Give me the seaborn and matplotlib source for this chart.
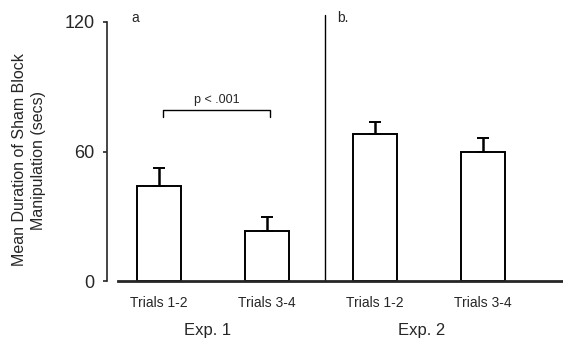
import numpy as np
import pandas as pd
import matplotlib
matplotlib.use("Agg")
import matplotlib.pyplot as plt
import seaborn as sns

# values
conditions = ["e1_t12", "e1_t34", "e2_t12", "e2_t34"]
tick_labels = ["Trials 1-2", "Trials 3-4", "Trials 1-2", "Trials 3-4"]
means = [44, 23, 68, 60]
upper_err = [8.5, 6.5, 5.8, 6.2]
exp_labels = ["Exp. 1", "Exp. 2"]
panel_labels = ["a", "b."]
bracket_y = 79
p_text = "p < .001"

sns.set_style("ticks")
plt.rcParams["font.family"] = ["Liberation Sans", "DejaVu Sans"]

df = pd.DataFrame({"condition": conditions, "mean": means})

fig = plt.figure(figsize=(5.63, 3.45), dpi=100)
ax = fig.add_axes([118 / 563, 64 / 345, 445 / 563, 259 / 345])

sns.barplot(data=df, x="condition", y="mean", order=conditions, width=0.41,
            color="white", edgecolor="black", linewidth=1.4, ax=ax)
# give the bars solid white faces
for p in ax.patches:
    p.set_facecolor("white")

x = np.arange(len(conditions))
ax.errorbar(x, means, yerr=[np.zeros(len(means)), upper_err], fmt="none",
            ecolor="black", elinewidth=1.8, capsize=4.3, capthick=1.4)

ax.set_xlim(-0.38, 3.74)
ax.set_ylim(0, 120)
ax.set_yticks([0, 60, 120])
ax.set_xticks(x)
ax.set_xticklabels(tick_labels, fontsize=10)
ax.tick_params(axis="x", length=0, pad=11)
ax.tick_params(axis="y", length=3, width=1.2, pad=6, labelsize=13)
ax.set_xlabel("")
ax.set_ylabel("")

fig.text(29 / 563, 1 - 160 / 345, "Mean Duration of Sham Block\nManipulation (secs)",
         rotation=90, ha="center", va="center", multialignment="center",
         fontsize=11.5, linespacing=1.4)

sns.despine(ax=ax)
ax.spines["left"].set_position(("outward", 8))
ax.spines["left"].set_linewidth(1.2)
ax.spines["bottom"].set_linewidth(2)

# divider between the two experiments
ax.plot([1.537, 1.537], [0, 123.2], color="black", lw=1, clip_on=False)

# panel letters
ax.text(-0.22, 122, panel_labels[0], fontsize=10, ha="center", va="center",
        clip_on=False)
ax.text(1.70, 122, panel_labels[1], fontsize=10, ha="center", va="center",
        clip_on=False)

# significance bracket
ax.plot([0.04, 0.04, 1.03, 1.03], [bracket_y - 2.8, bracket_y, bracket_y, bracket_y - 2.8],
        color="black", lw=1)
ax.text(0.535, bracket_y + 2, p_text, fontsize=9, ha="center", va="bottom")

# experiment labels
for xc, lab in zip([0.45, 2.43], exp_labels):
    ax.text(xc, -0.19, lab, transform=ax.get_xaxis_transform(),
            fontsize=12, ha="center", va="center")

fig.savefig("out.png", dpi=100)
plt.close(fig)
